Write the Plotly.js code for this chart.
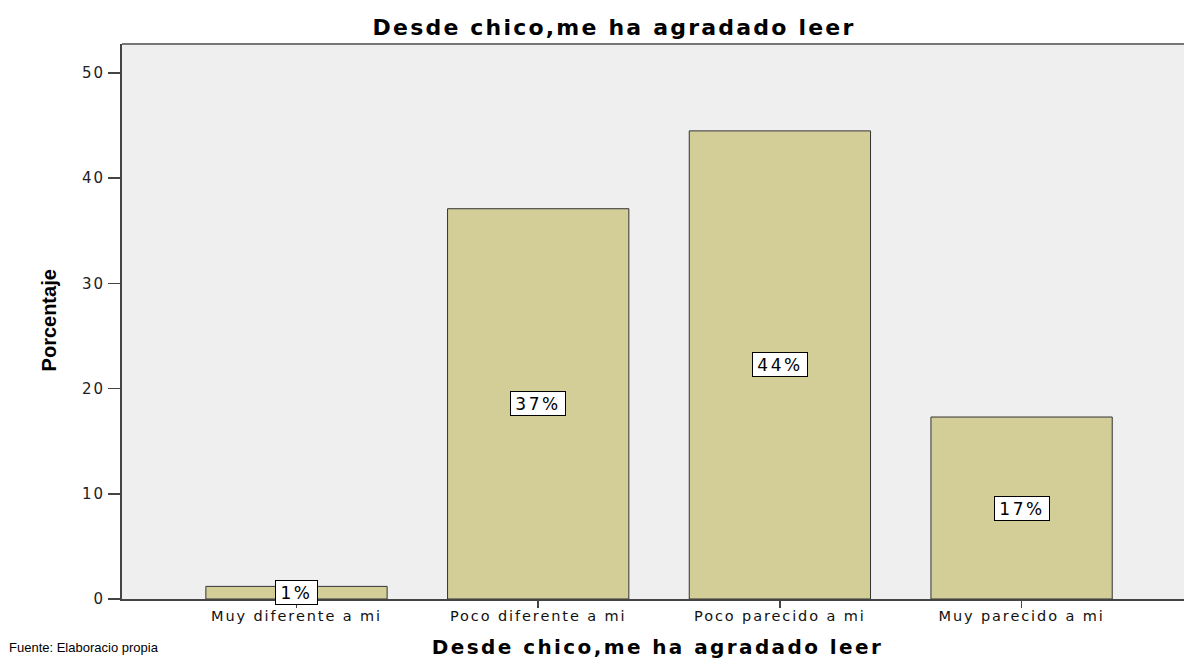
<!DOCTYPE html>
<html>
<head>
<meta charset="utf-8">
<script src="https://cdn.plot.ly/plotly-3.0.1.min.js"></script>
<style>
html,body{margin:0;padding:0;background:#fff;}
#chart .xtick text{letter-spacing:1.9px;}
#chart .ytick text{letter-spacing:2px;}
#chart .gtitle{letter-spacing:2.2px;}
#chart .annotation text{letter-spacing:2.5px;}
#chart .annotation[data-index="0"] text{letter-spacing:0;}
#chart .annotation[data-index="1"] text{letter-spacing:0;}
#chart .annotation[data-index="2"] text{letter-spacing:2.4px;}
</style>
</head>
<body>
<div id="chart" style="width:1184px;height:659px;"></div>
<script>
var categories = ["Muy diferente a mi", "Poco diferente a mi", "Poco parecido a mi", "Muy parecido a mi"];
var percentages = [1.2, 37.1, 44.5, 17.3];
var labels = ["1%", "37%", "44%", "17%"];
var yTicks = [0, 10, 20, 30, 40, 50];
var chartTitle = "Desde chico,me ha agradado leer";
var yTitle = "Porcentaje";
var sourceNote = "Fuente: Elaboracio propia";

var wide = 'DejaVu Sans, Verdana, sans-serif';
var arial = 'Liberation Sans, Arial, sans-serif';

var trace = {
  type: 'bar',
  x: categories,
  y: percentages,
  width: 0.75,
  marker: {color: '#d3ce98', line: {color: '#333333', width: 1}},
  hoverinfo: 'none'
};

var annotations = [
  {
    xref: 'paper', yref: 'paper', x: -0.108, y: -0.0875, xanchor: 'left', yanchor: 'middle',
    text: sourceNote, showarrow: false,
    font: {family: arial, size: 13, color: '#000'}
  },
  {
    xref: 'paper', yref: 'paper', x: -0.0687, y: 0.502, xanchor: 'center', yanchor: 'middle',
    text: '<b>' + yTitle + '</b>', textangle: -90, showarrow: false,
    font: {family: arial, size: 20, color: '#000'}
  },
  {
    xref: 'paper', yref: 'paper', x: 0.5045, y: -0.0865, xanchor: 'center', yanchor: 'middle',
    text: '<b>' + chartTitle + '</b>', showarrow: false,
    font: {family: wide, size: 20, color: '#000'}
  }
];
categories.forEach(function (c, i) {
  annotations.push({
    x: c, y: percentages[i] / 2, xref: 'x', yref: 'y',
    text: labels[i], showarrow: false,
    width: labels[i].length > 2 ? 52 : 39, height: 21,
    align: 'center', valign: 'middle',
    font: {family: wide, size: 17, color: '#000'},
    bgcolor: '#ffffff', bordercolor: '#000000', borderwidth: 1, borderpad: 1
  });
});

var layout = {
  width: 1184, height: 659,
  margin: {l: 122, r: 0, t: 44, b: 60, pad: 0},
  paper_bgcolor: '#ffffff',
  plot_bgcolor: '#efefef',
  showlegend: false,
  title: {
    text: '<b>' + chartTitle + '</b>',
    font: {family: wide, size: 22, color: '#000'},
    x: 614 / 1184, xanchor: 'center', xref: 'container', y: 0.958, yref: 'container', yanchor: 'middle'
  },
  xaxis: {
    type: 'category',
    range: [-0.722, 3.672],
    showgrid: false, zeroline: false,
    showline: true, linecolor: '#444', linewidth: 1.5,
    ticks: 'outside', ticklen: 7, tickcolor: '#444', tickwidth: 1.5,
    ticklabelstandoff: -4,
    tickfont: {family: wide, size: 14.5, color: '#111'},
    fixedrange: true
  },
  yaxis: {
    range: [0, 52.76],
    tickvals: yTicks,
    ticktext: yTicks.map(String),
    showgrid: false, zeroline: false,
    showline: true, linecolor: '#444', linewidth: 2,
    ticks: 'outside', ticklen: 12, tickcolor: '#444', tickwidth: 1.5,
    tickfont: {family: wide, size: 15, color: '#222'},
    fixedrange: true
  },
  shapes: [{
    type: 'line', xref: 'paper', yref: 'paper', x0: 0, x1: 1, y0: 1, y1: 1,
    line: {color: '#777', width: 2}
  }],
  annotations: annotations
};

Plotly.newPlot('chart', [trace], layout, {displayModeBar: false, staticPlot: true});
</script>
</body>
</html>
